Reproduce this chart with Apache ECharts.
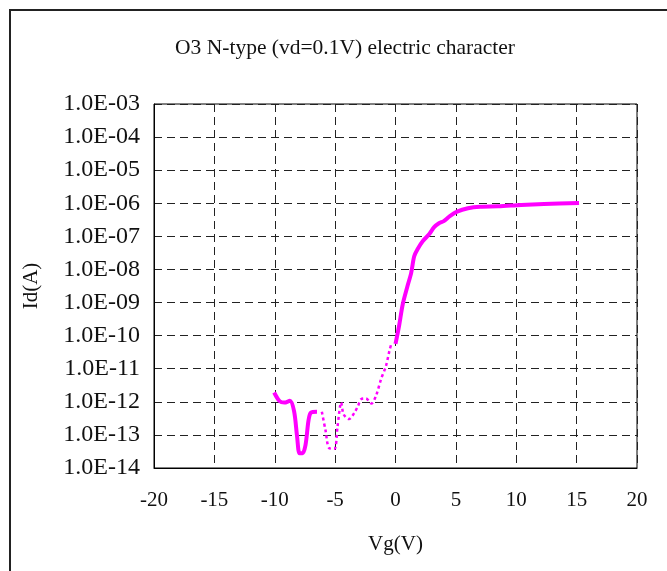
<!DOCTYPE html>
<html>
<head>
<meta charset="utf-8">
<script src="https://cdn.jsdelivr.net/npm/echarts@6/dist/echarts.min.js"></script>
<style>
html,body{margin:0;padding:0;background:#fff;}
#chart{width:667px;height:571px;}
</style>
</head>
<body>
<div id="chart"></div>
<script>
// Solid segment at negative gate voltage (Vg, Id)
const vgSolidLeft = [-10.05, -9.6, -9.2, -8.75, -8.4, -8.15, -7.95, -7.7, -7.45, -7.2, -7.0, -6.5];
const idSolidLeft = [1.91e-12, 1.05e-12, 9.5e-13, 1.07e-12, 5.2e-13, 8.9e-14, 2.8e-14, 2.8e-14, 5.0e-14, 2.8e-13, 4.7e-13, 5.0e-13];

// Dotted segment in the middle
const vgDotted = [-6.1, -5.8, -5.5, -5.05, -4.8, -4.5, -4.3, -3.85, -3.4, -3.1, -2.85, -2.45, -2.0, -1.6, -1.2, -0.8, -0.5, -0.35];
const idDotted = [5.0e-13, 1.4e-13, 4.0e-14, 3.8e-14, 1.8e-13, 9.5e-13, 4.2e-13, 3.0e-13, 4.7e-13, 7.6e-13, 1.2e-12, 1.26e-12, 8.9e-13, 1.58e-12, 4.8e-12, 1.17e-11, 3.5e-11, 5.6e-11];

// Solid segment, turn-on and saturation
const vgSolidRight = [0, 0.3, 0.6, 1.0, 1.3, 1.55, 1.85, 2.25, 2.8, 3.2, 3.6, 4.0, 4.5, 5.1, 6.0, 7.0, 8.5, 10.4, 12.3, 15.2];
const idSolidRight = [5.6e-11, 2.0e-10, 8.9e-10, 3.2e-9, 7.9e-9, 2.5e-8, 4.2e-8, 7.1e-8, 1.17e-7, 1.9e-7, 2.5e-7, 2.9e-7, 4.1e-7, 5.6e-7, 7.1e-7, 7.9e-7, 8.1e-7, 8.9e-7, 9.5e-7, 1.02e-6];

// Tick labels
const xTicks = [-20, -15, -10, -5, 0, 5, 10, 15, 20];
const yTickLabels = ['1.0E-14','1.0E-13','1.0E-12','1.0E-11','1.0E-10','1.0E-09','1.0E-08','1.0E-07','1.0E-06','1.0E-05','1.0E-04','1.0E-03'];

const titleText = 'O3 N-type (vd=0.1V) electric character';
const xName = 'Vg(V)';
const yName = 'Id(A)';

function pairs(xs, ys){ return xs.map((x,i)=>[x, ys[i]]); }

const FONT = '"Liberation Serif", "Times New Roman", serif';
const chart = echarts.init(document.getElementById('chart'), null, {renderer:'canvas'});

chart.setOption({
  animation: false,
  backgroundColor: '#fff',
  graphic: [{
    type: 'rect',
    shape: {x: 10, y: 10, width: 700, height: 620},
    style: {fill: 'none', stroke: '#222', lineWidth: 2},
    silent: true
  }],
  title: {
    text: titleText,
    left: 340,
    top: 32,
    textAlign: 'center',
    textStyle: {fontFamily: FONT, fontSize: 21.5, fontWeight: 'normal', color: '#111'}
  },
  grid: {
    left: 154, right: 30, top: 104, bottom: 103,
    show: true, borderColor: '#000', borderWidth: 1, backgroundColor: 'transparent'
  },
  xAxis: {
    type: 'value', min: xTicks[0], max: xTicks[xTicks.length-1], interval: 5,
    name: xName, nameLocation: 'middle', nameGap: 66,
    nameTextStyle: {fontFamily: FONT, fontSize: 21, color: '#111'},
    axisLine: {show: true, onZero: false, lineStyle: {color: '#000', width: 1}},
    axisTick: {show: false},
    axisLabel: {fontFamily: FONT, fontSize: 21, color: '#111', margin: 22},
    splitLine: {show: true, lineStyle: {color: '#222', type: [8,5], width: 1}}
  },
  yAxis: {
    type: 'log', logBase: 10, min: 1e-14, max: 1e-3, interval: 1,
    name: yName, nameLocation: 'middle', nameGap: 112, nameRotate: 90,
    nameTextStyle: {fontFamily: FONT, fontSize: 21, color: '#111'},
    axisLine: {show: true, onZero: false, lineStyle: {color: '#000', width: 1}},
    axisTick: {show: false},
    axisLabel: {
      fontFamily: FONT, fontSize: 24, color: '#111', margin: 14,
      formatter: function(v){ const e = Math.round(Math.log10(v)); return yTickLabels[e + 14] || ''; }
    },
    splitLine: {show: true, lineStyle: {color: '#222', type: [8,5], width: 1}}
  },
  series: [
    {
      type: 'line', name: 'solid-left', data: pairs(vgSolidLeft, idSolidLeft),
      showSymbol: false, smooth: 0.3, z: 3,
      lineStyle: {color: '#ff00ff', width: 4}
    },
    {
      type: 'line', name: 'dotted', data: pairs(vgDotted, idDotted),
      showSymbol: false, smooth: 0.3, z: 3,
      lineStyle: {color: '#ff00ff', width: 2.5, type: [3,3]}
    },
    {
      type: 'line', name: 'solid-right', data: pairs(vgSolidRight, idSolidRight),
      showSymbol: false, smooth: 0.3, z: 3,
      lineStyle: {color: '#ff00ff', width: 4}
    }
  ]
});
</script>
</body>
</html>
